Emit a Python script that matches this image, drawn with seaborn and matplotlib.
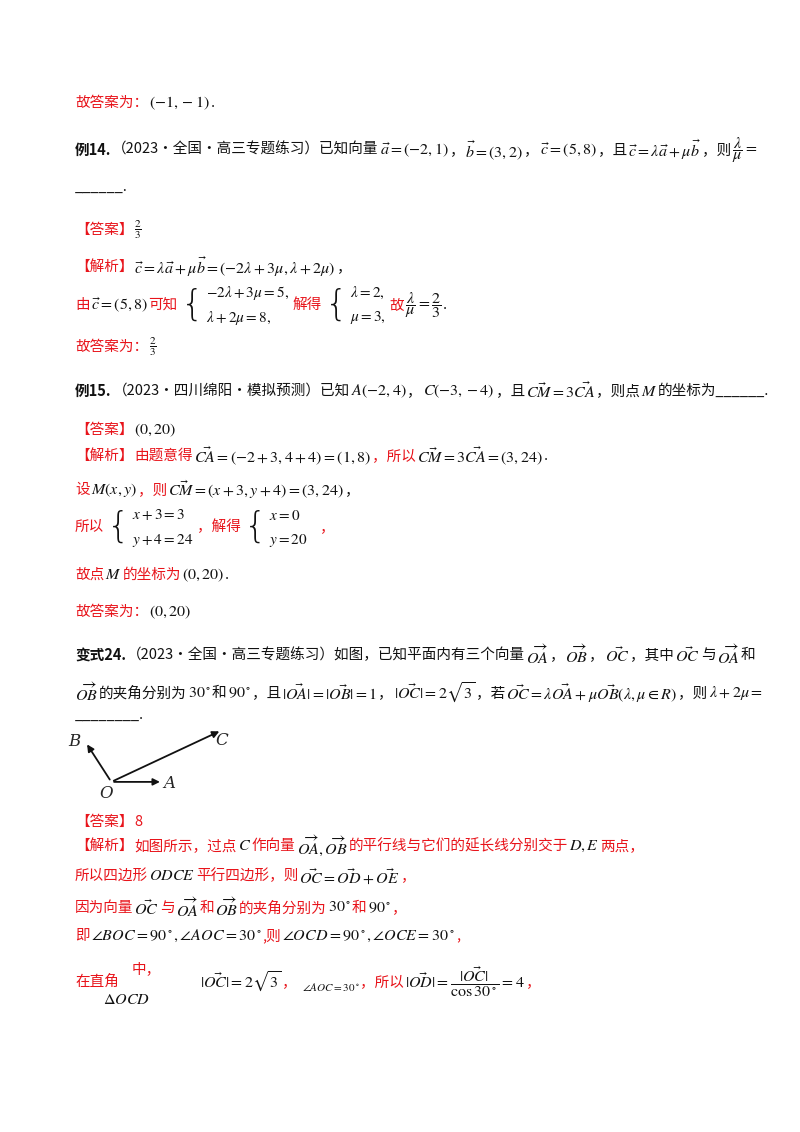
import matplotlib
matplotlib.use("Agg")
import matplotlib.pyplot as plt
import seaborn as sns

sns.set_theme(style="white")
plt.rcParams['mathtext.fontset'] = 'stix'
CJK = ['Noto Sans CJK SC', 'DejaVu Sans']
RED = '#e8141b'
BLK = '#111111'

# vector diagram data (unit-ish coordinates)
vec_names = ['A', 'B', 'C']
vec_x = [1.0, -0.5, 2.15]
vec_y = [0.0, 0.77, 1.0]
label_dx = [0.12, -0.22, 0.0]
label_dy = [-0.04, 0.02, -0.2]

W, H = 800, 1132
fig = plt.figure(figsize=(8, 11.32), dpi=100)
fig.patch.set_facecolor('white')
renderer = fig.canvas.get_renderer()

def line(x, y, segs, size=10.5):
    """segs: list of (text, color, kind) where kind 'c'=chinese, 'm'=math, 'b'=bold"""
    for s, c, k in segs:
        kw = dict(color=c, fontsize=size, va='center', ha='left')
        if k == 'c':
            kw['family'] = CJK
        elif k == 'b':
            kw['family'] = CJK
            kw['weight'] = 'bold'
        else:
            kw['fontsize'] = size + 1.0
        t = fig.text(x / W, 1 - y / H, s, **kw)
        x += t.get_window_extent(renderer).width + 1
    return x

def brace(x, y, top, bot, color=BLK):
    t = fig.text(x / W, 1 - y / H, '{', fontsize=26, va='center', ha='left', color=color,
                 family='DejaVu Sans', weight='light')
    x2 = x + t.get_window_extent(renderer).width + 2
    a = fig.text(x2 / W, 1 - (y - 12) / H, top, fontsize=11, va='center', color=color)
    b = fig.text(x2 / W, 1 - (y + 13) / H, bot, fontsize=11, va='center', color=color)
    return x2 + max(a.get_window_extent(renderer).width, b.get_window_extent(renderer).width) + 4

line(75, 103, [('故答案为：', RED, 'c'), (r'$(-1,-1)$', BLK, 'm'), ('.', BLK, 'c')])
line(75, 150, [('例14.', BLK, 'b'), ('（2023·全国·高三专题练习）已知向量', BLK, 'c'),
               (r'$\vec{a}=(-2,1)$', BLK, 'm'), ('，', BLK, 'c'), (r'$\vec{b}=(3,2)$', BLK, 'm'),
               ('，', BLK, 'c'), (r'$\vec{c}=(5,8)$', BLK, 'm'), ('，且', BLK, 'c'),
               (r'$\vec{c}=\lambda\vec{a}+\mu\vec{b}$', BLK, 'm'), ('，则', BLK, 'c'),
               (r'$\dfrac{\lambda}{\mu}=$', BLK, 'm')])
line(75, 187, [('______.', BLK, 'c')])
line(75, 230, [('【答案】', RED, 'c'), (r'$\frac{2}{3}$', BLK, 'm')])
line(75, 267, [('【解析】', RED, 'c'), (r'$\vec{c}=\lambda\vec{a}+\mu\vec{b}=(-2\lambda+3\mu,\lambda+2\mu)$', BLK, 'm'), ('，', BLK, 'c')])
x = line(75, 305, [('由', RED, 'c'), (r'$\vec{c}=(5,8)$', BLK, 'm'), ('可知', RED, 'c')])
x = brace(x + 2, 305, r'$-2\lambda+3\mu=5,$', r'$\lambda+2\mu=8,$')
x = line(x, 305, [('解得', RED, 'c')])
x = brace(x + 2, 305, r'$\lambda=2,$', r'$\mu=3,$')
line(x, 305, [('故', RED, 'c'), (r'$\dfrac{\lambda}{\mu}=\dfrac{2}{3}$', BLK, 'm'), ('.', BLK, 'c')])
line(75, 347, [('故答案为：', RED, 'c'), (r'$\frac{2}{3}$', BLK, 'm')])

line(75, 391, [('例15.', BLK, 'b'), ('（2023·四川绵阳·模拟预测）已知', BLK, 'c'), (r'$A(-2,4)$', BLK, 'm'),
               ('，', BLK, 'c'), (r'$C(-3,-4)$', BLK, 'm'), ('，且', BLK, 'c'),
               (r'$\vec{CM}=3\vec{CA}$', BLK, 'm'), ('，则点', BLK, 'c'), (r'$M$', BLK, 'm'),
               ('的坐标为______.', BLK, 'c')])
line(75, 430, [('【答案】', RED, 'c'), (r'$(0,20)$', BLK, 'm')])
line(75, 456, [('【解析】', RED, 'c'), ('由题意得', RED, 'c'), (r'$\vec{CA}=(-2+3,4+4)=(1,8)$', BLK, 'm'),
               ('，所以', RED, 'c'), (r'$\vec{CM}=3\vec{CA}=(3,24)$', BLK, 'm'), ('.', BLK, 'c')])
line(75, 490, [('设', RED, 'c'), (r'$M(x,y)$', BLK, 'm'), ('，则', RED, 'c'),
               (r'$\vec{CM}=(x+3,y+4)=(3,24)$', BLK, 'm'), ('，', BLK, 'c')])
x = line(75, 527, [('所以', RED, 'c')])
x = brace(x + 2, 527, r'$x+3=3$', r'$y+4=24$')
x = line(x, 527, [('，解得', RED, 'c')])
x = brace(x + 2, 527, r'$x=0$', r'$y=20$')
line(x + 8, 527, [('，', RED, 'c')])
line(75, 575, [('故点', RED, 'c'), (r'$M$', BLK, 'm'), ('的坐标为', RED, 'c'), (r'$(0,20)$', BLK, 'm'), ('.', BLK, 'c')])
line(75, 612, [('故答案为：', RED, 'c'), (r'$(0,20)$', BLK, 'm')])

line(75, 655, [('变式24.', BLK, 'b'), ('（2023·全国·高三专题练习）如图，已知平面内有三个向量', BLK, 'c'),
               (r'$\overrightarrow{OA}$', BLK, 'm'), ('，', BLK, 'c'), (r'$\overrightarrow{OB}$', BLK, 'm'),
               ('，', BLK, 'c'), (r'$\vec{OC}$', BLK, 'm'), ('，其中', BLK, 'c'), (r'$\vec{OC}$', BLK, 'm'),
               ('与', BLK, 'c'), (r'$\overrightarrow{OA}$', BLK, 'm'), ('和', BLK, 'c')])
line(75, 693, [(r'$\overrightarrow{OB}$', BLK, 'm'), ('的夹角分别为', BLK, 'c'), (r'$30^\circ$', BLK, 'm'),
               ('和', BLK, 'c'), (r'$90^\circ$', BLK, 'm'), ('，且', BLK, 'c'),
               (r'$|\vec{OA}|=|\vec{OB}|=1$', BLK, 'm'), ('，', BLK, 'c'), (r'$|\vec{OC}|=2\sqrt{3}$', BLK, 'm'),
               ('，若', BLK, 'c'), (r'$\vec{OC}=\lambda\vec{OA}+\mu\vec{OB}(\lambda,\mu\in R)$', BLK, 'm'),
               ('，则', BLK, 'c'), (r'$\lambda+2\mu=$', BLK, 'm')])
line(75, 715, [('________.', BLK, 'c')])

# vector diagram
ax = fig.add_axes([65 / W, 1 - 800 / H, 180 / W, 75 / H])
ax.set_xlim(-0.9, 2.6)
ax.set_ylim(-0.35, 1.1)
ax.axis('off')
for n, vx, vy, dx, dy in zip(vec_names, vec_x, vec_y, label_dx, label_dy):
    ax.annotate('', xy=(vx, vy), xytext=(0, 0),
                arrowprops=dict(arrowstyle='-|>', color=BLK, lw=1.3, mutation_scale=10))
    ax.text(vx + dx, vy + dy, n, fontsize=12, style='italic', family='DejaVu Serif', ha='center', va='center')
ax.text(-0.1, -0.22, 'O', fontsize=12, style='italic', family='DejaVu Serif', ha='center', va='center')

line(75, 822, [('【答案】', RED, 'c'), ('8', RED, 'c')])
line(75, 846, [('【解析】', RED, 'c'), ('如图所示，过点', RED, 'c'), (r'$C$', BLK, 'm'), ('作向量', RED, 'c'),
               (r'$\overrightarrow{OA},\overrightarrow{OB}$', BLK, 'm'), ('的平行线与它们的延长线分别交于', RED, 'c'),
               (r'$D,E$', BLK, 'm'), ('两点，', RED, 'c')])
line(75, 876, [('所以四边形', RED, 'c'), (r'$ODCE$', BLK, 'm'), ('平行四边形，则', RED, 'c'),
               (r'$\vec{OC}=\vec{OD}+\vec{OE}$', BLK, 'm'), ('，', RED, 'c')])
line(75, 908, [('因为向量', RED, 'c'), (r'$\vec{OC}$', BLK, 'm'), ('与', RED, 'c'), (r'$\overrightarrow{OA}$', BLK, 'm'),
               ('和', RED, 'c'), (r'$\overrightarrow{OB}$', BLK, 'm'), ('的夹角分别为', RED, 'c'),
               (r'$30^\circ$', BLK, 'm'), ('和', RED, 'c'), (r'$90^\circ$', BLK, 'm'), ('，', RED, 'c')])
line(75, 936, [('即', RED, 'c'), (r'$\angle BOC=90^\circ,\angle AOC=30^\circ$', BLK, 'm'), (',则', RED, 'c'),
               (r'$\angle OCD=90^\circ,\angle OCE=30^\circ$', BLK, 'm'), (',', RED, 'c')])
line(75, 982, [('在直角', RED, 'c')])
line(103, 999, [(r'$\Delta OCD$', BLK, 'm')])
line(132, 969, [('中，', RED, 'c')])
x = line(200, 982, [(r'$|\vec{OC}|=2\sqrt{3}$', BLK, 'm'), ('，', RED, 'c')])
x = line(x + 4, 987, [(r'$\angle AOC=30^\circ$', BLK, 'm')], size=7)
line(x, 982, [('，所以', RED, 'c'), (r'$|\vec{OD}|=\dfrac{|\vec{OC}|}{\cos 30^\circ}=4$', BLK, 'm'), ('，', RED, 'c')])

fig.savefig('out.png', dpi=100, facecolor='white')
